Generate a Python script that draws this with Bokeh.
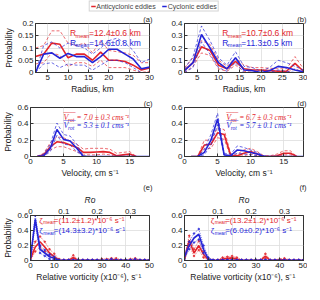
from bokeh.plotting import figure
from bokeh.models import Label, LinearAxis, Range1d, FixedTicker, Legend, LegendItem
from bokeh.layouts import column, row
from bokeh.embed import file_html
from bokeh.resources import INLINE

RED = "#e3242b"
BLUE = "#2424d8"
FONT = "Liberation Sans"
SERIF = "Liberation Serif"

# ---------------- data ----------------
radius = [2, 4, 6, 8, 10, 12, 14, 16, 18, 20, 22, 24, 26, 28, 30]
a_red = [0.065, 0.075, 0.12, 0.115, 0.06, 0.075, 0.075, 0.05, 0.083, 0.05, 0.05, 0.045, 0.03, 0.01, 0.018]
a_red_hi = [0.10, 0.11, 0.17, 0.17, 0.12, 0.11, 0.12, 0.08, 0.13, 0.09, 0.085, 0.08, 0.07, 0.04, 0.04]
a_red_lo = [0.035, 0.04, 0.08, 0.07, 0.025, 0.04, 0.04, 0.025, 0.05, 0.02, 0.02, 0.02, 0.01, 0.0, 0.005]
a_blue = [0.0, 0.075, 0.08, 0.058, 0.078, 0.065, 0.065, 0.04, 0.065, 0.095, 0.095, 0.075, 0.055, 0.015, 0.022]
a_blue_hi = [0.0, 0.11, 0.125, 0.10, 0.12, 0.11, 0.10, 0.075, 0.10, 0.13, 0.14, 0.12, 0.09, 0.04, 0.055]
a_blue_lo = [0.0, 0.035, 0.04, 0.02, 0.035, 0.03, 0.03, 0.01, 0.03, 0.05, 0.05, 0.04, 0.02, 0.0, 0.0]

b_red = [0.02, 0.08, 0.21, 0.18, 0.06, 0.03, 0.09, 0.03, 0.02, 0.02, 0.015, 0.01, 0.01, 0.075, 0.01]
b_red_hi = [0.04, 0.12, 0.26, 0.23, 0.10, 0.05, 0.12, 0.06, 0.04, 0.04, 0.035, 0.03, 0.03, 0.13, 0.03]
b_red_lo = [0.0, 0.05, 0.16, 0.14, 0.03, 0.01, 0.06, 0.01, 0.0, 0.0, 0.0, 0.0, 0.0, 0.03, 0.0]
b_blue = [0.015, 0.08, 0.31, 0.20, 0.08, 0.03, 0.12, 0.02, 0.015, 0.0, 0.015, 0.05, 0.04, 0.02, 0.005]
b_blue_hi = [0.03, 0.13, 0.38, 0.26, 0.12, 0.06, 0.17, 0.05, 0.04, 0.01, 0.04, 0.10, 0.08, 0.05, 0.02]
b_blue_lo = [0.0, 0.04, 0.25, 0.15, 0.04, 0.01, 0.08, 0.0, 0.0, 0.0, 0.0, 0.02, 0.01, 0.0, 0.0]

vel_red = [1, 2, 3, 4, 5, 6, 7, 8, 9, 10, 11, 12, 13, 14, 15, 16]
vel_blue = [1, 2, 3, 4, 5, 6, 7, 8, 9, 10, 11, 12, 13, 14, 15, 16, 17, 18]
c_red = [0.0, 0.02, 0.12, 0.18, 0.17, 0.14, 0.11, 0.05, 0.05, 0.055, 0.06, 0.05, 0.01, 0.02, 0.03, 0.0]
c_red_hi = [0.0, 0.04, 0.17, 0.24, 0.23, 0.19, 0.15, 0.09, 0.10, 0.10, 0.10, 0.09, 0.04, 0.05, 0.06, 0.0]
c_red_lo = [0.0, 0.0, 0.08, 0.12, 0.12, 0.09, 0.06, 0.02, 0.02, 0.02, 0.03, 0.02, 0.0, 0.0, 0.01, 0.0]
c_blue = [0.0, 0.01, 0.10, 0.33, 0.21, 0.19, 0.10, 0.0, 0.0, 0.0, 0.0, 0.0, 0.0, 0.0, 0.0, 0.0, 0.0, 0.0]
c_blue_hi = [0.0, 0.03, 0.15, 0.41, 0.27, 0.25, 0.15, 0.01, 0.0, 0.0, 0.0, 0.0, 0.0, 0.0, 0.0, 0.0, 0.0, 0.0]
c_blue_lo = [0.0, 0.0, 0.06, 0.26, 0.15, 0.14, 0.06, 0.0, 0.0, 0.0, 0.0, 0.0, 0.0, 0.0, 0.0, 0.0, 0.0, 0.0]

vel_red_d = [1, 2, 3, 4, 5, 6, 7, 8, 9, 10, 11, 12, 13, 14, 15, 16, 17]
d_red = [0.0, 0.0, 0.14, 0.15, 0.29, 0.27, 0.01, 0.01, 0.04, 0.06, 0.03, 0.0, 0.0, 0.01, 0.04, 0.04, 0.0]
d_red_hi = [0.0, 0.0, 0.20, 0.20, 0.35, 0.33, 0.03, 0.03, 0.08, 0.10, 0.06, 0.01, 0.01, 0.03, 0.07, 0.07, 0.0]
d_red_lo = [0.0, 0.0, 0.09, 0.10, 0.23, 0.21, 0.0, 0.0, 0.01, 0.03, 0.01, 0.0, 0.0, 0.0, 0.02, 0.02, 0.0]
d_blue = [0.0, 0.0, 0.05, 0.20, 0.46, 0.02, 0.01, 0.08, 0.07, 0.05, 0.03, 0.0, 0.0, 0.0, 0.0, 0.0, 0.0, 0.0]
d_blue_hi = [0.0, 0.0, 0.09, 0.27, 0.53, 0.04, 0.03, 0.13, 0.11, 0.08, 0.05, 0.01, 0.0, 0.0, 0.0, 0.0, 0.0, 0.0]
d_blue_lo = [0.0, 0.0, 0.02, 0.14, 0.39, 0.0, 0.0, 0.04, 0.03, 0.02, 0.01, 0.0, 0.0, 0.0, 0.0, 0.0, 0.0, 0.0]

vort = [0, 2, 4, 6, 8, 10, 12, 14, 16, 18, 20, 22, 24, 26, 28, 30, 32, 34, 36, 38, 40, 42, 44, 46, 48, 50]
e_red = [0.02, 0.18, 0.25, 0.18, 0.10, 0.05, 0.0, 0.0, 0.0, 0.04, 0.0, 0.0, 0.0, 0.0, 0.0, 0.0, 0.0, 0.01, 0.01, 0.0, 0.0, 0.0, 0.01, 0.0, 0.0, 0.0]
e_red_hi = [0.04, 0.25, 0.32, 0.25, 0.15, 0.09, 0.02, 0.01, 0.01, 0.07, 0.01, 0.01, 0.01, 0.01, 0.01, 0.02, 0.02, 0.03, 0.03, 0.01, 0.01, 0.02, 0.03, 0.01, 0.01, 0.01]
e_red_lo = [0.0, 0.12, 0.18, 0.12, 0.06, 0.02, 0.0, 0.0, 0.0, 0.02, 0.0, 0.0, 0.0, 0.0, 0.0, 0.0, 0.0, 0.0, 0.0, 0.0, 0.0, 0.0, 0.0, 0.0, 0.0, 0.0]
e_blue = [0.03, 0.55, 0.15, 0.10, 0.05, 0.03, 0.0, 0.0, 0.0, 0.0, 0.0, 0.0, 0.0, 0.0, 0.0, 0.0, 0.0, 0.0, 0.0, 0.0, 0.0, 0.0, 0.0, 0.0, 0.0, 0.0]
e_blue_hi = [0.05, 0.60, 0.20, 0.14, 0.08, 0.05, 0.01, 0.01, 0.01, 0.01, 0.01, 0.01, 0.01, 0.01, 0.01, 0.01, 0.01, 0.02, 0.01, 0.01, 0.01, 0.01, 0.02, 0.01, 0.01, 0.01]
e_blue_lo = [0.01, 0.48, 0.10, 0.06, 0.02, 0.01, 0.0, 0.0, 0.0, 0.0, 0.0, 0.0, 0.0, 0.0, 0.0, 0.0, 0.0, 0.0, 0.0, 0.0, 0.0, 0.0, 0.0, 0.0, 0.0, 0.0]

f_red = [0.02, 0.27, 0.10, 0.20, 0.08, 0.01, 0.0, 0.0, 0.02, 0.03, 0.035, 0.02, 0.0, 0.0, 0.0, 0.0, 0.0, 0.06, 0.0, 0.0, 0.01, 0.01, 0.0, 0.0, 0.0, 0.0]
f_red_hi = [0.04, 0.33, 0.15, 0.26, 0.12, 0.03, 0.01, 0.01, 0.04, 0.05, 0.06, 0.04, 0.01, 0.01, 0.01, 0.01, 0.01, 0.09, 0.01, 0.01, 0.02, 0.03, 0.01, 0.01, 0.01, 0.01]
f_red_lo = [0.0, 0.20, 0.06, 0.14, 0.04, 0.0, 0.0, 0.0, 0.01, 0.01, 0.02, 0.01, 0.0, 0.0, 0.0, 0.0, 0.0, 0.03, 0.0, 0.0, 0.0, 0.0, 0.0, 0.0, 0.0, 0.0]
f_blue = [0.05, 0.20, 0.30, 0.35, 0.15, 0.02, 0.0, 0.0, 0.0, 0.0, 0.0, 0.0, 0.0, 0.0, 0.0, 0.0, 0.0, 0.0, 0.0, 0.0, 0.0, 0.0, 0.0, 0.0, 0.0, 0.0]
f_blue_hi = [0.08, 0.25, 0.36, 0.42, 0.20, 0.04, 0.01, 0.01, 0.01, 0.01, 0.01, 0.01, 0.01, 0.01, 0.01, 0.01, 0.01, 0.01, 0.01, 0.01, 0.01, 0.01, 0.01, 0.01, 0.01, 0.01]
f_blue_lo = [0.02, 0.15, 0.24, 0.28, 0.10, 0.01, 0.0, 0.0, 0.0, 0.0, 0.0, 0.0, 0.0, 0.0, 0.0, 0.0, 0.0, 0.0, 0.0, 0.0, 0.0, 0.0, 0.0, 0.0, 0.0, 0.0]

ro_ticks = [0, 0.1, 0.2, 0.3]
RO_END = 50 / 140
legend_labels = ["Anticyclonic eddies", "Cyclonic eddies"]

# ---------------- layout ----------------
FRAME_H = 53
LEFT_W, RIGHT_W = 155, 152


def style_axis(ax, label_style="normal"):
    ax.major_tick_in = 3
    ax.major_tick_out = 0
    ax.minor_tick_line_color = None
    ax.major_label_text_font = FONT
    ax.major_label_text_font_size = "8px"
    ax.major_label_text_color = "#222222"
    ax.major_label_standoff = 2
    ax.axis_line_color = "#333333"
    ax.major_tick_line_color = "#333333"
    ax.axis_label_text_font = FONT
    ax.axis_label_text_font_size = "8.5px"
    ax.axis_label_text_font_style = label_style
    ax.axis_label_text_color = "#222222"
    ax.axis_label_standoff = 1


def make_fig(left, xr, yr, xticks, yticks, xlabel, tag, top_axis=False):
    width = LEFT_W if left else RIGHT_W
    top = 30 if top_axis else 10
    bottom = 21
    p = figure(width=width, height=top + FRAME_H + bottom, x_range=xr, y_range=yr,
               output_backend="svg", toolbar_location=None)
    p.min_border_left = 30 if left else 29
    p.min_border_right = 6 if left else 4
    p.min_border_top = top
    p.min_border_bottom = bottom
    p.background_fill_color = "white"
    p.outline_line_color = "#333333"
    p.xaxis.ticker = FixedTicker(ticks=xticks)
    p.yaxis.ticker = FixedTicker(ticks=yticks)
    for ax in p.axis:
        style_axis(ax)
    p.xaxis.axis_label = xlabel
    if left:
        p.yaxis.axis_label = "Probability"
    p.grid.grid_line_color = "#dddddd"
    p.grid.grid_line_width = 0.8
    if top_axis:
        p.extra_x_ranges = {"ro": Range1d(0, RO_END)}
        ax = LinearAxis(x_range_name="ro", axis_label="Ro", ticker=FixedTicker(ticks=ro_ticks))
        style_axis(ax, "italic")
        p.add_layout(ax, "above")
    p.title.text = tag
    p.title.align = "right"
    p.title.text_font = FONT
    p.title.text_font_size = "7.5px"
    p.title.text_font_style = "normal"
    p.title.text_color = "#222222"
    p.title.standoff = 0
    p.title.offset = -3
    return p


def draw(p, x, mid, hi, lo, color, dotted=False):
    dash = "1 1" if dotted else "3 2"
    p.line(x, hi, color=color, line_width=0.8, line_dash=dash, line_alpha=0.85)
    p.line(x, lo, color=color, line_width=0.8, line_dash=dash, line_alpha=0.85)
    if dotted:
        p.scatter(x, hi, size=1.6, color=color, alpha=0.8)
        p.scatter(x, lo, size=1.6, color=color, alpha=0.8)
    p.line(x, mid, color=color, line_width=1.6)


def sub_label(p, x, y, head, sub, rest, color, font, style, sizes, offs):
    hs, ss, rs = sizes
    so, ro = offs
    p.add_layout(Label(x=x, y=y, text=head, text_baseline="middle", text_font=font,
                       text_font_style=style, text_font_size=hs, text_color=color))
    p.add_layout(Label(x=x, y=y, text=sub, text_baseline="middle", x_offset=so, y_offset=-2.5,
                       text_font=font, text_font_style=style, text_font_size=ss, text_color=color))
    p.add_layout(Label(x=x, y=y, text=rest, text_baseline="middle", x_offset=ro,
                       text_font=font if style == "normal" else SERIF,
                       text_font_style="normal" if style == "normal" else "italic",
                       text_font_size=rs, text_color=color))


# (a)
pa = make_fig(True, (2, 30), (0, 0.2), [5, 10, 15, 20, 25, 30], [0, 0.05, 0.1, 0.15, 0.2], "Radius, km", "(a)")
draw(pa, radius, a_red, a_red_hi, a_red_lo, RED)
draw(pa, radius, a_blue, a_blue_hi, a_blue_lo, BLUE)
sub_label(pa, 10.5, 0.16, "R", "mean", "=12.4±0.6 km", RED, FONT, "normal", ("8.5px", "5.5px", "8.5px"), (5.5, 19))
sub_label(pa, 10.5, 0.122, "R", "mean", "=14.6±0.8 km", BLUE, FONT, "normal", ("8.5px", "5.5px", "8.5px"), (5.5, 19))

# (b)
pb = make_fig(False, (2, 30), (0, 0.4), [5, 10, 15, 20, 25, 30], [0, 0.1, 0.2, 0.3, 0.4], "Radius, km", "(b)")
draw(pb, radius, b_red, b_red_hi, b_red_lo, RED)
draw(pb, radius, b_blue, b_blue_hi, b_blue_lo, BLUE)
sub_label(pb, 10.9, 0.32, "R", "mean", "=10.7±0.6 km", RED, FONT, "normal", ("8.5px", "5.5px", "8.5px"), (5.5, 19))
sub_label(pb, 10.9, 0.244, "R", "mean", "=11.3±0.5 km", BLUE, FONT, "normal", ("8.5px", "5.5px", "8.5px"), (5.5, 19))

# (c)
pc = make_fig(True, (0, 18), (0, 0.6), [0, 5, 10, 15], [0, 0.2, 0.4, 0.6], "Velocity, cm s⁻¹", "(c)")
draw(pc, vel_red, c_red, c_red_hi, c_red_lo, RED)
draw(pc, vel_blue, c_blue, c_blue_hi, c_blue_lo, BLUE)
for yv, txt, col in [(0.48, "= 7.0 ± 0.3 cms⁻¹", RED), (0.378, "= 5.3 ± 0.1 cms⁻¹", BLUE)]:
    sub_label(pc, 5.0, yv, "V", "rot", txt, col, SERIF, "italic", ("8px", "5.5px", "7.5px"), (4.5, 13))
    pc.add_layout(Label(x=5.0, y=yv, text="‾‾‾‾", text_baseline="middle", y_offset=3,
                        text_font="DejaVu Sans", text_font_size="6px", text_color=col))

# (d)
pd = make_fig(False, (0, 18), (0, 0.6), [0, 5, 10, 15], [0, 0.2, 0.4, 0.6], "Velocity, cm s⁻¹", "(d)")
draw(pd, vel_red_d, d_red, d_red_hi, d_red_lo, RED)
draw(pd, vel_blue, d_blue, d_blue_hi, d_blue_lo, BLUE)
for yv, txt, col in [(0.48, "= 6.7 ± 0.3 cms⁻¹", RED), (0.378, "= 5.7 ± 0.1 cms⁻¹", BLUE)]:
    sub_label(pd, 6.3, yv, "V", "rot", txt, col, SERIF, "italic", ("8px", "5.5px", "7.5px"), (4.5, 13))
    pd.add_layout(Label(x=6.3, y=yv, text="‾‾‾‾", text_baseline="middle", y_offset=3,
                        text_font="DejaVu Sans", text_font_size="6px", text_color=col))

vlabel = "Relative vorticity (x10⁻⁶),  s⁻¹"
# (e)
pe = make_fig(True, (0, 50), (0, 0.6), [0, 10, 20, 30, 40, 50], [0, 0.2, 0.4, 0.6], vlabel, "(e)", top_axis=True)
draw(pe, vort, e_red, e_red_hi, e_red_lo, RED, dotted=True)
draw(pe, vort, e_blue, e_blue_hi, e_blue_lo, BLUE, dotted=True)
sub_label(pe, 3.7, 0.536, "ζ", "mean", "=(11.2±1.2)*10⁻⁶ s⁻¹", RED, FONT, "normal", ("8px", "4.8px", "8px"), (4, 14.5))
sub_label(pe, 3.7, 0.40, "ζ", "mean", "=(14.3±3.2)*10⁻⁶ s⁻¹", BLUE, FONT, "normal", ("8px", "4.8px", "8px"), (4, 14.5))

# (f)
pf = make_fig(False, (0, 50), (0, 0.6), [0, 10, 20, 30, 40, 50], [0, 0.2, 0.4, 0.6], vlabel, "(f)", top_axis=True)
draw(pf, vort, f_red, f_red_hi, f_red_lo, RED, dotted=True)
draw(pf, vort, f_blue, f_blue_hi, f_blue_lo, BLUE, dotted=True)
sub_label(pf, 11, 0.536, "ζ", "mean", "=(13.2±1.2)*10⁻⁶ s⁻¹", RED, FONT, "normal", ("8px", "4.8px", "8px"), (4, 14.5))
sub_label(pf, 11, 0.40, "ζ", "mean", "=(6.0±0.2)*10⁻⁶ s⁻¹", BLUE, FONT, "normal", ("8px", "4.8px", "8px"), (4, 14.5))

# legend strip
lg = figure(width=LEFT_W + RIGHT_W, height=12, x_range=(0, 1), y_range=(0, 1),
            output_backend="svg", toolbar_location=None,
            x_axis_location=None, y_axis_location=None, min_border=0)
lg.grid.visible = False
lg.outline_line_color = None
r1 = lg.line(x=[-5, -4], y=[-5, -4], color=RED, line_width=1.5)
r2 = lg.line(x=[-5, -4], y=[-5, -4], color=BLUE, line_width=1.5)
leg = Legend(items=[LegendItem(label=legend_labels[0], renderers=[r1]),
                    LegendItem(label=legend_labels[1], renderers=[r2])],
             orientation="horizontal", location="center",
             label_text_font=FONT, label_text_font_size="7px", label_height=7,
             glyph_width=5, glyph_height=7, padding=1, margin=0, spacing=6,
             label_standoff=1, border_line_color="#aaaaaa", background_fill_alpha=1)
lg.add_layout(leg, "center")

layout = column(lg, row(pa, pb), row(pc, pd), row(pe, pf))
open("out.html", "w").write(file_html(layout, INLINE))
